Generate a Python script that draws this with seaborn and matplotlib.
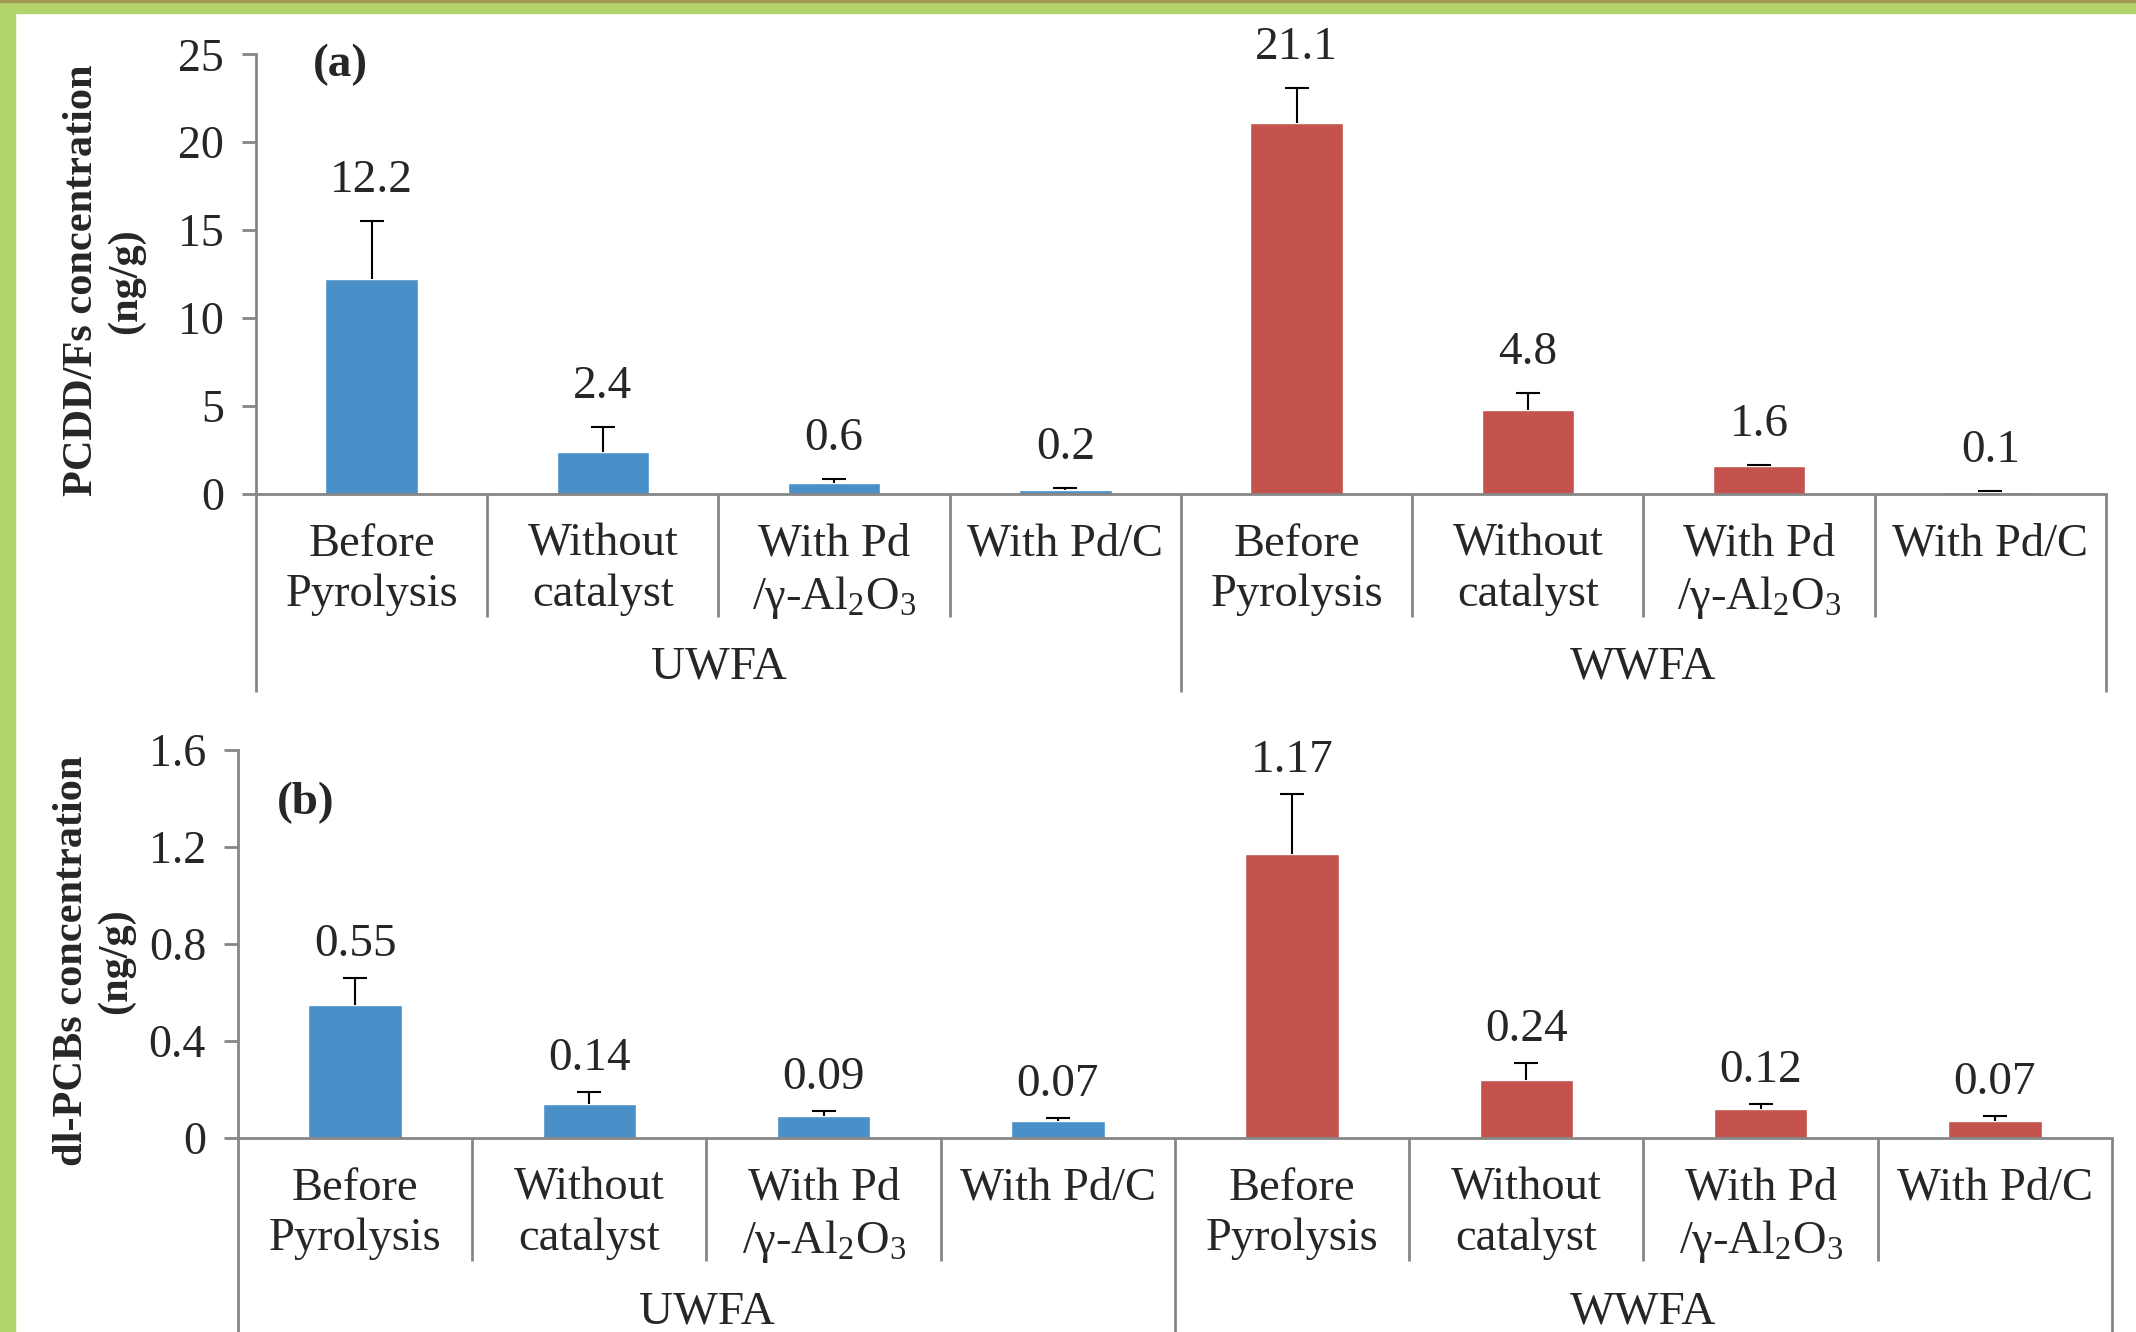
import numpy as np
import pandas as pd
import matplotlib
matplotlib.use('Agg')
import matplotlib.pyplot as plt
import matplotlib.transforms as mtransforms
from matplotlib.patches import Rectangle
import seaborn as sns

sns.set_style("white")
plt.rcParams['font.family'] = ['Liberation Serif', 'DejaVu Serif']
plt.rcParams['mathtext.fontset'] = 'custom'
plt.rcParams['mathtext.rm'] = 'Liberation Serif'
plt.rcParams['mathtext.it'] = 'Liberation Serif:italic'
plt.rcParams['mathtext.bf'] = 'Liberation Serif:bold'

# data
groups = ['UWFA', 'WWFA']
conditions = ['Before\nPyrolysis', 'Without\ncatalyst', 'With Pd\n/γ-Al$_2$O$_3$', 'With Pd/C']
group_colors = ['#4A90C8', '#C4524D']

pcdd_values = [12.2, 2.4, 0.6, 0.2, 21.1, 4.8, 1.6, 0.1]
pcdd_errors = [3.3, 1.4, 0.25, 0.12, 2.0, 0.95, 0.05, 0.05]

pcb_values = [0.55, 0.14, 0.09, 0.07, 1.17, 0.24, 0.12, 0.07]
pcb_errors = [0.11, 0.05, 0.02, 0.012, 0.25, 0.07, 0.02, 0.02]

AXIS_GRAY = '#868686'


def make_frame(values, errors):
    rows = []
    i = 0
    for g in groups:
        for c in conditions:
            rows.append({'key': g + '|' + c, 'group': g, 'condition': c,
                         'value': values[i], 'err': errors[i]})
            i += 1
    return pd.DataFrame(rows)


def draw_panel(ax, df, ymax, ystep, ylabel, tag, tag_xy, ylabel_xy,
               inner_depth, outer_depth, group_y, label_offset):
    palette = [group_colors[groups.index(g)] for g in df['group']]
    sns.barplot(data=df, x='key', y='value', hue='key', palette=palette,
                legend=False, width=0.4, saturation=1, errorbar=None, ax=ax)

    xs = np.arange(len(df))
    tops = df['value'].values + df['err'].values
    ax.vlines(xs, df['value'].values, tops, color='black', lw=1.5, zorder=3)
    ax.plot(xs, tops, ls='none', marker='_', ms=17, mew=1.5, color='black', zorder=3)

    for x, t, v in zip(xs, tops, df['value'].values):
        ax.annotate(f'{v:g}', (x, t), xytext=(0, label_offset), textcoords='offset points',
                    ha='center', va='center', fontsize=34)

    ax.set_xlim(-0.5, len(df) - 0.5)
    ax.set_ylim(0, ymax)
    ticks = np.arange(0, ymax + ystep / 2, ystep)
    ax.set_yticks(ticks)
    ax.set_yticklabels([f'{t:g}' for t in ticks])
    ax.set_xticks(xs)
    ax.set_xticklabels(df['condition'], fontsize=33.5, linespacing=1.25)
    ax.tick_params(axis='x', length=0, pad=21)
    ax.tick_params(axis='y', length=10, width=2, color=AXIS_GRAY, labelsize=33, pad=13,
                   direction='out', left=True)
    ax.set_xlabel('')
    ax.set_ylabel('')

    for s in ['top', 'right']:
        ax.spines[s].set_visible(False)
    for s in ['left', 'bottom']:
        ax.spines[s].set_color(AXIS_GRAY)
        ax.spines[s].set_linewidth(2)

    trans = mtransforms.blended_transform_factory(ax.transData, ax.transAxes)
    n = len(conditions)
    for k in range(len(df) + 1):
        xb = k - 0.5
        depth = outer_depth if k % n == 0 else inner_depth
        ax.plot([xb, xb], [0, -depth], transform=trans, color=AXIS_GRAY, lw=2,
                clip_on=False, solid_capstyle='butt')

    for gi, g in enumerate(groups):
        ax.text(gi * n + (n - 1) / 2, group_y, g, transform=trans, ha='center',
                va='center', fontsize=34)

    ax.text(tag_xy[0], tag_xy[1], tag, transform=ax.transAxes, ha='center', va='center',
            fontsize=34, fontweight='bold')
    ax.text(ylabel_xy[0], ylabel_xy[1], ylabel, transform=ax.transAxes, rotation=90,
            ha='center', va='center', fontsize=30.5, fontweight='bold',
            multialignment='center', linespacing=1.2)


fig = plt.figure(figsize=(21.36, 13.32), dpi=100)
fig.patch.set_facecolor('white')
fig.patches.append(Rectangle((0, 0), 15 / 2136, 1, transform=fig.transFigure,
                             color='#B2D46A', zorder=-10))
fig.patches.append(Rectangle((0, 1 - 13 / 1332), 1, 13 / 1332, transform=fig.transFigure,
                             color='#B2D46A', zorder=-10))
fig.patches.append(Rectangle((0, 1 - 2 / 1332), 1, 2 / 1332, transform=fig.transFigure,
                             color='#A49A55', zorder=-9))

ax1 = fig.add_axes([0.11985, 0.62913, 0.8661, 0.3301])
ax2 = fig.add_axes([0.11142, 0.14565, 0.87734, 0.29129])

draw_panel(ax1, make_frame(pcdd_values, pcdd_errors), 25, 5,
           'PCDD/Fs concentration\n(ng/g)', '(a)', (0.0454, 0.975), (-0.082, 0.485),
           0.28, 0.45, -0.393, 29)
draw_panel(ax2, make_frame(pcb_values, pcb_errors), 1.6, 0.4,
           'dl-PCBs concentration\n(ng/g)', '(b)', (0.036, 0.863), (-0.077, 0.456),
           0.317, 0.5, -0.448, 24)

fig.savefig('out.png', dpi=100)
